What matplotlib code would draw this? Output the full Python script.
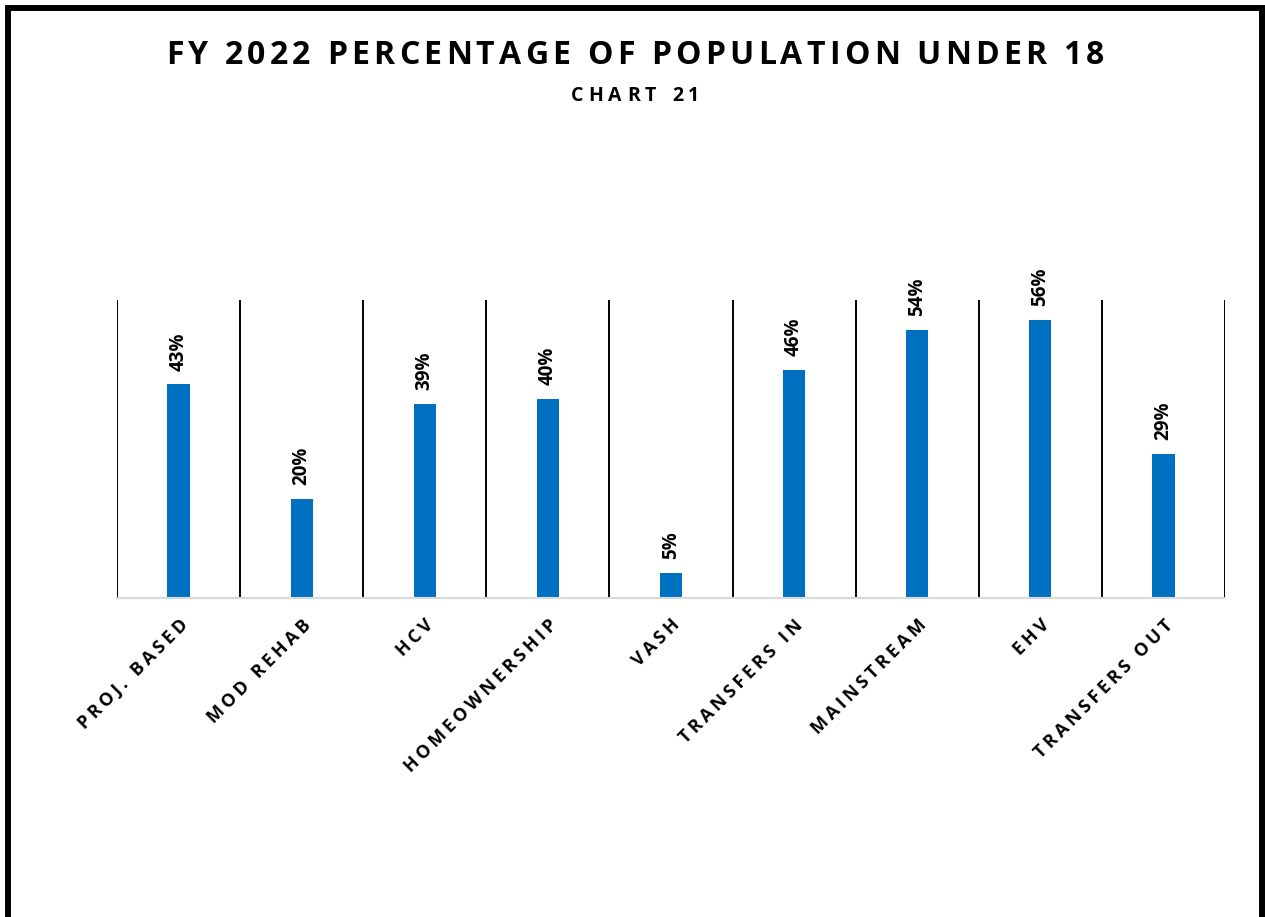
import matplotlib
matplotlib.use("Agg")
import matplotlib.pyplot as plt
from matplotlib.patches import Rectangle

# FY 2022 share of household members under 18, by program
programs = ["PROJ. BASED", "MOD REHAB", "HCV", "HOMEOWNERSHIP", "VASH",
            "TRANSFERS IN", "MAINSTREAM", "EHV", "TRANSFERS OUT"]
pct_under_18 = [43, 20, 39, 40, 5, 46, 54, 56, 29]
title = "FY 2022 PERCENTAGE OF POPULATION UNDER 18"
subtitle = "CHART 21"

BLUE = "#0070C0"
W, H = 1265, 917
plt.rcParams["font.family"] = ["Open Sans", "DejaVu Sans"]


def spaced(s, gap="\u2009"):
    # crude letter spacing for rotated labels
    return gap.join(s)


def tracked_text(fig, s, xc, y, track, **kw):
    """Centre a horizontal string at (xc, y) in pixels, adding track px between letters."""
    r = fig.canvas.get_renderer()

    def width(t):
        tmp = fig.text(0, 0, t, **kw)
        w = tmp.get_window_extent(r).width
        tmp.remove()
        return w

    base = width("HH")
    adv = [width("H" + c + "H") - base for c in s]
    total = sum(adv) + track * (len(s) - 1)
    x = xc - total / 2
    for c, a in zip(s, adv):
        if c != " ":
            fig.text(x / W, 1 - y / H, c, ha="left", va="center", **kw)
        x += a + track


fig = plt.figure(figsize=(W / 100, H / 100), dpi=100)
ax = fig.add_axes([117 / W, 319 / H, 1108 / W, 298 / H])

x = list(range(len(programs)))
vals = [v / 100 for v in pct_under_18]
ax.bar(x, vals, width=0.18, color=BLUE, zorder=3)

for xi, v in zip(x, pct_under_18):
    ax.annotate(f"{v}%", (xi, v / 100), xytext=(0, 10), textcoords="offset points",
                rotation=90, ha="center", va="bottom", fontsize=13.5, fontweight="bold")

ax.set_xlim(-0.5, len(programs) - 0.5)
ax.set_ylim(0, 0.6)
ax.set_yticks([])

# vertical separators between categories
for b in range(len(programs) + 1):
    ax.axvline(b - 0.5, color="black", lw=1.4, zorder=1)

for side in ["top", "right", "left"]:
    ax.spines[side].set_visible(False)
ax.spines["bottom"].set_color("#D9D9D9")
ax.spines["bottom"].set_linewidth(1.5)
ax.spines["bottom"].set_zorder(4)

ax.set_xticks(x)
ax.set_xticklabels([spaced(p) for p in programs], rotation=45, ha="right",
                   rotation_mode="anchor", fontsize=13, fontweight="bold")
ax.tick_params(axis="x", length=0, pad=13)

tracked_text(fig, title, 635, 56, 4.2, fontsize=23, fontweight="bold")
tracked_text(fig, subtitle, 635, 96, 5.2, fontsize=14, fontweight="bold")

# outer frame
fig.add_artist(Rectangle((8 / W, -0.2), 1254 / W, 1.2 - 7.5 / H,
                         transform=fig.transFigure, fill=False,
                         edgecolor="black", lw=4.3))

fig.savefig("out.png", dpi=100)
